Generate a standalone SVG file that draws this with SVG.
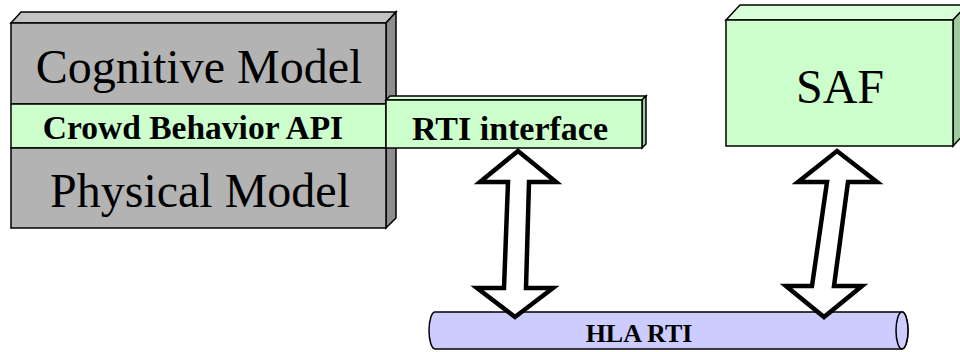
<svg xmlns="http://www.w3.org/2000/svg" width="960" height="352" viewBox="0 0 960 352">
<style>
.ln{stroke:#000;stroke-width:1.5;stroke-linejoin:miter}
.gf{fill:#b3b3b3}.gt{fill:#c4c4c4}.gs{fill:#8e8e8e}
.nf{fill:#ccffcc}.nt{fill:#d9ffd9}.ns{fill:#9fcc9f}
text{font-family:'Liberation Serif','Times New Roman',Times,'DejaVu Serif',serif;fill:#000;text-anchor:middle}
.big{font-size:48px}
.bold{font-weight:bold}
.arrow{fill:#fff;stroke:#000;stroke-width:4.5;stroke-linejoin:miter;stroke-miterlimit:10}
</style>
<rect width="960" height="352" fill="#fff"/>
<g id="left-stack">
<polygon class="gt ln" points="11,23 21,12 396,12 386,23"/>
<polygon class="gs ln" points="386,23 396,12 396,218 386,228"/>
<rect class="gf ln" x="11" y="23" width="375" height="81"/>
<rect class="nf ln" x="11" y="104" width="375" height="44"/>
<rect class="gf ln" x="11" y="148" width="375" height="80"/>
<text class="big" x="199" y="83">Cognitive Model</text>
<text class="bold" x="193" y="139" font-size="33.5">Crowd Behavior API</text>
<text class="big" x="200" y="207">Physical Model</text>
</g>
<g id="rti-interface">
<polygon class="nt ln" points="386,100 390,96 646,96 642,100"/>
<polygon class="ns ln" points="642,100 646,96 646,144 642,148"/>
<rect class="nf ln" x="386" y="100" width="256" height="48"/>
<text class="bold" x="510" y="140" font-size="34">RTI interface</text>
</g>
<g id="saf">
<polygon class="nt ln" points="726,20 740,5 967,5 953,20"/>
<polygon class="ns ln" points="953,20 967,5 967,131 953,146"/>
<rect class="nf ln" x="726" y="20" width="227" height="126"/>
<text class="big" x="840" y="103" font-size="46">SAF</text>
</g>
<g id="hla-rti">
<path d="M435,312 H902 A6,18.5 0 0 1 902,349 H435 A6,18.5 0 0 1 435,312 Z" fill="#ccccff" class="ln"/>
<ellipse cx="902" cy="330.5" rx="6" ry="18.5" fill="#ccccff" class="ln"/>
<text class="bold" x="639" y="342" font-size="26">HLA RTI</text>
</g>
<g id="connectors">
<polygon class="arrow" points="518,151 556,182 529,182 526,288 553,288 515,317 477,288 504,288 508,182 480,182"/>
<polygon class="arrow" points="837,151 877,182 848,182 834,286 862,286 824,317 786,286 812,286 827,182 798,182"/>
</g>
</svg>
